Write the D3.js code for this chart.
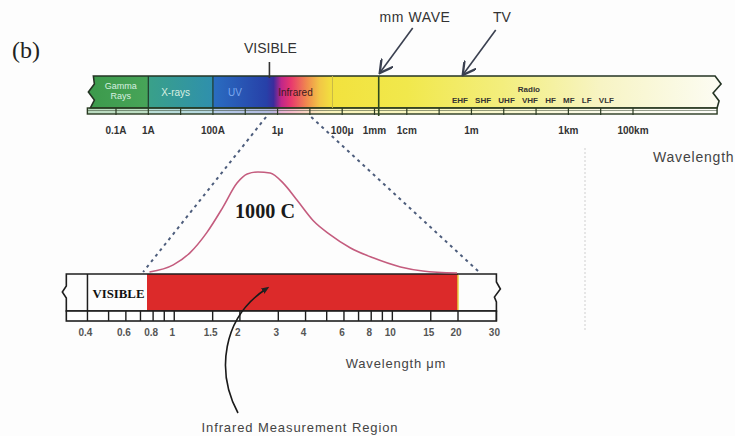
<!DOCTYPE html>
<html><head><meta charset="utf-8">
<script src="https://cdn.jsdelivr.net/npm/d3@7"></script>
<style>body{margin:0;background:#fff}svg{display:block}</style>
</head><body>
<script>
// ---------- data ----------
// top spectrum (wavelength in metres)
const topTickLabels = ["0.1A","1A","100A","1μ","100μ","1mm","1cm","1m","1km","100km"];
const topTickValues = [1e-11,1e-10,1e-8,1e-6,1e-4,1e-3,1e-2,1,1e3,1e5];
const topExtent = [1.5e-12, 4e7];
const bandDividers = [1e-10, 1e-8, 5e-5];
const bandLabels = ["Gamma", "Rays", "X-rays", "UV", "Infrared"];
const bandLabelWl = [1.4e-11, 1.4e-11, 7e-10, 4.8e-8, 1.05e-6];
const radioTitle = "Radio";
const radioBands = ["EHF","SHF","UHF","VHF","HF","MF","LF","VLF"];
const visibleWl = 5.6e-7;
const mmWaveWl = 1.35e-3;
const tvWl = 0.5;
const gradWl = [1.5e-12, 9e-11, 1.15e-10, 9e-9, 1.1e-8, 4.6e-7, 7.5e-7, 1.3e-6, 2.6e-6, 8e-6, 2e-5, 5e-5, 1e-2, 10, 1e4, 4e7];
const gradColor = ["#3c9a4c","#47a458","#39a08a","#2f90ac","#2a6cc0","#2740a8","#3a2c9c","#c0268a","#e8386e","#f08a4e","#f2c646","#f2e23e","#f1e84c","#f3ee7e","#f7f4c4","#fcfcf2"];
// zoom lines (top wl in m -> bottom wl in µm)
const zoomTopWl = [4.4e-7, 1.1e-5];
const zoomBotWl = [0.72, 25];
// infrared detail (µm)
const irExtent = [0.32, 30];
const irTickValues = [0.4,0.6,0.8,1,1.5,2,3,4,6,8,10,15,20,30];
const irMinorTicks = [0.5,0.7,0.9,5,7,9];
const visibleRange = [0.4, 0.75];
const measureRange = [0.75, 20];
// 1000 C emission curve
const curveWl = [0.77,0.99,1.18,1.41,1.67,1.94,2.16,2.42,2.75,3.16,3.66,4.33,5.18,6.4,8.16,10.9,13.8,19.8];
const curveI  = [0.01,0.08,0.2,0.4,0.65,0.89,0.98,1,0.99,0.89,0.72,0.52,0.38,0.25,0.15,0.06,0.02,0];

// ---------- scales ----------
const W = 735, H = 436;
const xTop = d3.scaleLog().domain([1e-11, 1e5]).range([116, 633]);
const xIr = d3.scaleLog().domain([0.75, 20]).range([147, 458]);
const yI = d3.scaleLinear().domain([0, 1]).range([273, 172]);

const svg = d3.select("body").append("svg").attr("width", W).attr("height", H)
  .style("font-family", "'Liberation Sans', Arial, sans-serif");
svg.append("rect").attr("width", W).attr("height", H).attr("fill", "#fdfdfd");

const defs = svg.append("defs");
const grad = defs.append("linearGradient").attr("id", "topGrad")
  .attr("gradientUnits", "userSpaceOnUse")
  .attr("x1", xTop(topExtent[0])).attr("x2", xTop(topExtent[1])).attr("y1", 0).attr("y2", 0);
const g0 = xTop(topExtent[0]), g1 = xTop(topExtent[1]);
gradWl.forEach((w, i) => grad.append("stop")
  .attr("offset", (xTop(w) - g0) / (g1 - g0)).attr("stop-color", gradColor[i]));
defs.append("marker").attr("id", "vhead").attr("viewBox", "0 0 10 10").attr("refX", 9).attr("refY", 5)
  .attr("markerWidth", 9).attr("markerHeight", 9).attr("orient", "auto-start-reverse")
  .append("path").attr("d", "M0,0 L9,5 L0,10").attr("fill", "none").attr("stroke", "#3a4050").attr("stroke-width", 1.6);
defs.append("marker").attr("id", "dot").attr("viewBox", "0 0 10 10").attr("refX", 5).attr("refY", 5)
  .attr("markerWidth", 5).attr("markerHeight", 5).attr("orient", "auto")
  .append("path").attr("d", "M0,1 L10,5 L0,9 Z").attr("fill", "#222");

// ---------- (b) ----------
svg.append("text").attr("x", 12).attr("y", 58).text("(b)")
  .attr("font-family", "'Liberation Serif', 'DejaVu Serif', serif").attr("font-size", 24).attr("fill", "#222");

// ---------- top bar ----------
const yT = 76, yM = 108, yB = 114;
const x0 = xTop(topExtent[0]), x1 = xTop(topExtent[1]);
svg.append("path")
  .attr("d", `M${x0+4},${yT} L${x1-2},${yT} L${x1+4},${yT+8} L${x1-4},${yT+17} L${x1+2},${yT+25} L${x1},${yM} L${x0+1},${yM} L${x0+5},${yM-8} L${x0-1},${yT+16} L${x0+5},${yT+8} Z`)
  .attr("fill", "url(#topGrad)").attr("stroke", "#243424").attr("stroke-width", 1.6);
// strip
svg.append("rect").attr("x", x0 - 2).attr("y", yM).attr("width", x1 - x0 + 2).attr("height", yB - yM)
  .attr("fill", "url(#topGrad)").attr("fill-opacity", 0.35).attr("stroke", "#2a3a22").attr("stroke-width", 1.4);
svg.append("line").attr("x1", x0 - 2).attr("x2", x1).attr("y1", yM + 2.5).attr("y2", yM + 2.5)
  .attr("stroke", "#2a3a22").attr("stroke-width", 0.8).attr("opacity", 0.6);
// decade ticks
const decades = d3.range(-11, 6).map(e => Math.pow(10, e));
svg.selectAll(".dtick").data(decades).join("line")
  .attr("x1", d => xTop(d)).attr("x2", d => xTop(d)).attr("y1", yM).attr("y2", yB + 1)
  .attr("stroke", "#2a3a22").attr("stroke-width", 1.2);
// dividers
svg.selectAll(".div").data(bandDividers).join("line")
  .attr("x1", d => xTop(d)).attr("x2", d => xTop(d)).attr("y1", yT).attr("y2", yM)
  .attr("stroke", (d, i) => i < 2 ? "#1f3a2a" : "#c8b848").attr("stroke-width", (d, i) => i < 2 ? 1.2 : 1);
// mm wave line
svg.append("line").attr("x1", xTop(mmWaveWl)).attr("x2", xTop(mmWaveWl)).attr("y1", yT).attr("y2", yB + 2)
  .attr("stroke", "#2e4a1e").attr("stroke-width", 1.6);
// band labels
svg.selectAll(".blab").data(bandLabels).join("text")
  .attr("x", (d, i) => xTop(bandLabelWl[i]))
  .attr("y", (d, i) => i === 0 ? 89 : i === 1 ? 99 : 96)
  .attr("text-anchor", (d, i) => i === 4 ? "start" : "middle")
  .attr("font-size", (d, i) => i < 2 ? 9 : 10)
  .attr("fill", (d, i) => i === 4 ? "#3a1a20" : i === 3 ? "#7aa8f0" : "#d8f0e0")
  .text(d => d);
svg.append("text").attr("x", xTop(60)).attr("y", 92).attr("text-anchor", "middle")
  .attr("font-size", 8).attr("font-weight", "bold").attr("fill", "#333").text(radioTitle);
svg.append("text").attr("x", xTop(80)).attr("y", 103).attr("text-anchor", "middle")
  .attr("font-size", 8).attr("font-weight", "bold").attr("fill", "#333").attr("word-spacing", 5)
  .text(radioBands.join(" "));
// top tick labels
svg.selectAll(".tlab").data(topTickValues).join("text")
  .attr("x", d => xTop(d)).attr("y", 134).attr("text-anchor", "middle")
  .attr("font-size", 10).attr("font-weight", "bold").attr("fill", "#333")
  .text((d, i) => topTickLabels[i]);
// VISIBLE marker
svg.append("line").attr("x1", xTop(visibleWl)).attr("x2", xTop(visibleWl)).attr("y1", 62).attr("y2", yT + 2)
  .attr("stroke", "#333").attr("stroke-width", 1.6);
svg.append("text").attr("x", xTop(visibleWl) + 1).attr("y", 53).attr("text-anchor", "middle")
  .attr("font-size", 14).attr("fill", "#333").text("VISIBLE");
// arrows
svg.append("line").attr("x1", xTop(mmWaveWl) + 34).attr("y1", 28).attr("x2", xTop(mmWaveWl) + 1).attr("y2", 73)
  .attr("stroke", "#3a4050").attr("stroke-width", 1.6).attr("marker-end", "url(#vhead)");
svg.append("text").attr("x", 415).attr("y", 22).attr("text-anchor", "middle")
  .attr("font-size", 14).attr("letter-spacing", 0.6).attr("fill", "#333").text("mm WAVE");
svg.append("line").attr("x1", xTop(tvWl) + 34).attr("y1", 30).attr("x2", xTop(tvWl) + 1).attr("y2", 75)
  .attr("stroke", "#3a4050").attr("stroke-width", 1.6).attr("marker-end", "url(#vhead)");
svg.append("text").attr("x", 502).attr("y", 22).attr("text-anchor", "middle")
  .attr("font-size", 14).attr("fill", "#333").text("TV");
// right Wavelength label
svg.append("text").attr("x", 653).attr("y", 162).attr("font-size", 14).attr("letter-spacing", 0.8)
  .attr("fill", "#444").text("Wavelength");
// faint vertical line
svg.append("line").attr("x1", 585).attr("x2", 585).attr("y1", 148).attr("y2", 330)
  .attr("stroke", "#d8d8d8").attr("stroke-width", 1.2).attr("stroke-dasharray", "2,2");

// ---------- zoom dashed lines ----------
[0, 1].forEach(i => svg.append("line")
  .attr("x1", xTop(zoomTopWl[i])).attr("y1", 117).attr("x2", xIr(zoomBotWl[i])).attr("y2", 272)
  .attr("stroke", "#4d5d7c").attr("stroke-width", 2).attr("stroke-dasharray", "3,4"));

// ---------- bottom bar ----------
const bT = 274, bM = 311, bB = 321;
const e0 = xIr(irExtent[0]), e1 = xIr(irExtent[1]);
svg.append("rect").attr("x", xIr(measureRange[0])).attr("y", bT).attr("width", xIr(measureRange[1]) - xIr(measureRange[0]))
  .attr("height", bM - bT).attr("fill", "#dc2a2a");
svg.append("path")
  .attr("d", `M${e0},${bT} L${e1},${bT} L${e1},${bT+8} L${e1+4},${bT+15} L${e1-2},${bT+23} L${e1},${bT+28} L${e1},${bM} L${e0},${bM} L${e0},${bT+24} L${e0-4},${bT+18} L${e0},${bT+12} Z`)
  .attr("fill", "none").attr("stroke", "#1e1e1e").attr("stroke-width", 1.6);
svg.append("line").attr("x1", xIr(visibleRange[0])).attr("x2", xIr(visibleRange[0])).attr("y1", bT).attr("y2", bB)
  .attr("stroke", "#1e1e1e").attr("stroke-width", 1.5);
svg.append("line").attr("x1", xIr(measureRange[1])).attr("x2", xIr(measureRange[1])).attr("y1", bT + 1).attr("y2", bM - 1)
  .attr("stroke", "#e8d040").attr("stroke-width", 1.5);
svg.append("rect").attr("x", e0).attr("y", bM).attr("width", e1 - e0).attr("height", bB - bM)
  .attr("fill", "#fff").attr("stroke", "#1e1e1e").attr("stroke-width", 1.6);
svg.selectAll(".itick").data(irTickValues.concat(irMinorTicks)).join("line")
  .attr("x1", d => xIr(d)).attr("x2", d => xIr(d)).attr("y1", bM).attr("y2", bB)
  .attr("stroke", "#1e1e1e").attr("stroke-width", 1.4);
svg.append("text").attr("x", xIr(visibleRange[0]) + 5).attr("y", 298)
  .attr("font-family", "'Liberation Serif', serif").attr("font-weight", "bold").attr("font-size", 12)
  .attr("textLength", 52).attr("lengthAdjust", "spacingAndGlyphs").attr("fill", "#111").text("VISIBLE");
svg.selectAll(".ilab").data(irTickValues).join("text")
  .attr("x", d => xIr(d) - 2).attr("y", 336).attr("text-anchor", "middle")
  .attr("font-size", 10).attr("font-weight", "bold").attr("fill", "#555").text(d => d);
svg.append("text").attr("x", 396).attr("y", 368).attr("text-anchor", "middle")
  .attr("font-size", 13).attr("letter-spacing", 0.8).attr("fill", "#444").text("Wavelength μm");

// ---------- emission curve ----------
const line = d3.line().x((d, i) => xIr(curveWl[i])).y(d => yI(d)).curve(d3.curveMonotoneX);
svg.append("path").datum(curveI).attr("d", line)
  .attr("fill", "none").attr("stroke", "#c45c7e").attr("stroke-width", 1.6);
svg.append("text").attr("x", 265).attr("y", 218).attr("text-anchor", "middle")
  .attr("font-family", "'Liberation Serif', serif").attr("font-weight", "bold").attr("font-size", 20)
  .attr("textLength", 60).attr("lengthAdjust", "spacingAndGlyphs").attr("fill", "#1a1a1a").text("1000 C");

// ---------- measurement region annotation ----------
svg.append("path").attr("d", "M238,413 C216,372 222,318 266,289")
  .attr("fill", "none").attr("stroke", "#1a1a1a").attr("stroke-width", 1.6).attr("marker-end", "url(#dot)");
svg.append("text").attr("x", 300).attr("y", 432).attr("text-anchor", "middle")
  .attr("font-size", 13).attr("letter-spacing", 0.9).attr("fill", "#444").text("Infrared Measurement Region");
</script>
</body></html>
